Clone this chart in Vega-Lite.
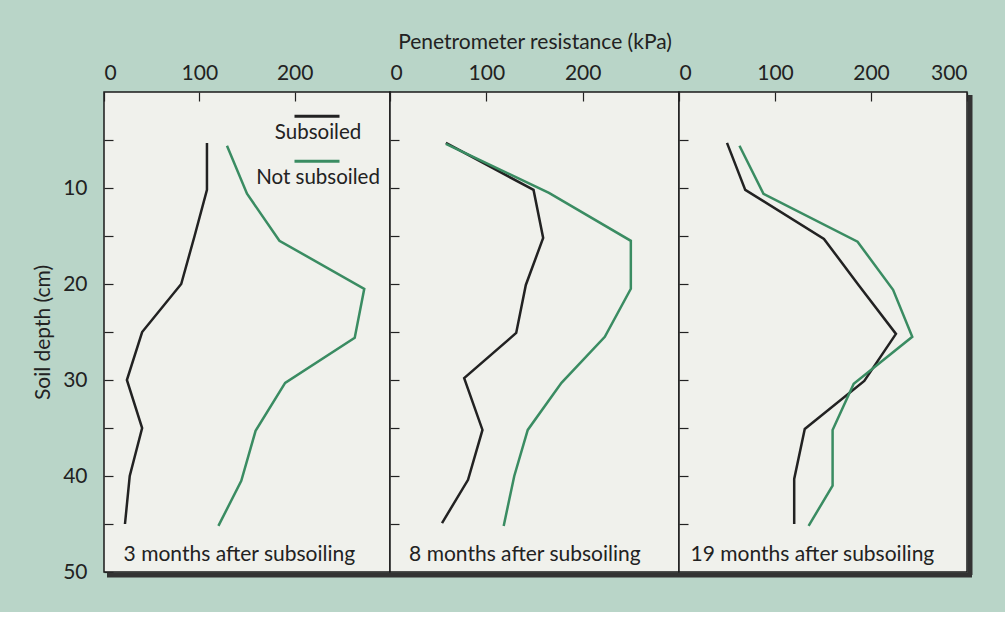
{
  "$schema": "https://vega.github.io/schema/vega-lite/v6.json",
  "background": "#b9d5c8",
  "padding": {"left": 31, "top": 30, "right": 29, "bottom": 29},
  "bounds": "flush",
  "config": {
    "font": "Lato",
    "view": {"stroke": "#1a1a1a", "strokeWidth": 1.5, "fill": "#f0f1ec"},
    "axis": {"labelFont": "Lato", "titleFont": "Lato", "labelColor": "#222", "titleColor": "#222", "tickColor": "#222", "grid": false, "domain": false, "labelFontSize": 21, "titleFontSize": 21, "titleFontWeight": "normal", "tickSize": -9, "tickWidth": 1.2},
    "legend": {"labelFont": "Lato"}
  },
  "datasets": {
    "profiles": [
      {"panel": 1, "treatment": "Subsoiled", "depth": 5.3, "resistance": 108},
      {"panel": 1, "treatment": "Subsoiled", "depth": 10.2, "resistance": 108},
      {"panel": 1, "treatment": "Subsoiled", "depth": 15, "resistance": 95},
      {"panel": 1, "treatment": "Subsoiled", "depth": 20, "resistance": 81},
      {"panel": 1, "treatment": "Subsoiled", "depth": 25, "resistance": 40},
      {"panel": 1, "treatment": "Subsoiled", "depth": 30, "resistance": 24},
      {"panel": 1, "treatment": "Subsoiled", "depth": 35, "resistance": 40},
      {"panel": 1, "treatment": "Subsoiled", "depth": 40, "resistance": 27},
      {"panel": 1, "treatment": "Subsoiled", "depth": 45, "resistance": 22},
      {"panel": 1, "treatment": "Not subsoiled", "depth": 5.6, "resistance": 129},
      {"panel": 1, "treatment": "Not subsoiled", "depth": 10.6, "resistance": 150},
      {"panel": 1, "treatment": "Not subsoiled", "depth": 15.5, "resistance": 184},
      {"panel": 1, "treatment": "Not subsoiled", "depth": 20.5, "resistance": 273},
      {"panel": 1, "treatment": "Not subsoiled", "depth": 25.6, "resistance": 263},
      {"panel": 1, "treatment": "Not subsoiled", "depth": 30.3, "resistance": 190},
      {"panel": 1, "treatment": "Not subsoiled", "depth": 35.3, "resistance": 159},
      {"panel": 1, "treatment": "Not subsoiled", "depth": 40.5, "resistance": 144},
      {"panel": 1, "treatment": "Not subsoiled", "depth": 45.2, "resistance": 120},
      {"panel": 2, "treatment": "Subsoiled", "depth": 5.3, "resistance": 58},
      {"panel": 2, "treatment": "Subsoiled", "depth": 10.2, "resistance": 149},
      {"panel": 2, "treatment": "Subsoiled", "depth": 15.2, "resistance": 159},
      {"panel": 2, "treatment": "Subsoiled", "depth": 20.1, "resistance": 141},
      {"panel": 2, "treatment": "Subsoiled", "depth": 25.1, "resistance": 131},
      {"panel": 2, "treatment": "Subsoiled", "depth": 29.8, "resistance": 77},
      {"panel": 2, "treatment": "Subsoiled", "depth": 35.2, "resistance": 96},
      {"panel": 2, "treatment": "Subsoiled", "depth": 40.4, "resistance": 81},
      {"panel": 2, "treatment": "Subsoiled", "depth": 44.9, "resistance": 54},
      {"panel": 2, "treatment": "Not subsoiled", "depth": 5.4, "resistance": 58},
      {"panel": 2, "treatment": "Not subsoiled", "depth": 10.5, "resistance": 165},
      {"panel": 2, "treatment": "Not subsoiled", "depth": 15.5, "resistance": 250},
      {"panel": 2, "treatment": "Not subsoiled", "depth": 20.5, "resistance": 250},
      {"panel": 2, "treatment": "Not subsoiled", "depth": 25.5, "resistance": 223},
      {"panel": 2, "treatment": "Not subsoiled", "depth": 30.3, "resistance": 178},
      {"panel": 2, "treatment": "Not subsoiled", "depth": 35.2, "resistance": 143},
      {"panel": 2, "treatment": "Not subsoiled", "depth": 40, "resistance": 129},
      {"panel": 2, "treatment": "Not subsoiled", "depth": 45.2, "resistance": 118},
      {"panel": 3, "treatment": "Subsoiled", "depth": 5.3, "resistance": 50},
      {"panel": 3, "treatment": "Subsoiled", "depth": 10.2, "resistance": 69},
      {"panel": 3, "treatment": "Subsoiled", "depth": 15.3, "resistance": 151},
      {"panel": 3, "treatment": "Subsoiled", "depth": 20.1, "resistance": 187},
      {"panel": 3, "treatment": "Subsoiled", "depth": 25.2, "resistance": 226},
      {"panel": 3, "treatment": "Subsoiled", "depth": 30.1, "resistance": 193},
      {"panel": 3, "treatment": "Subsoiled", "depth": 35.1, "resistance": 131},
      {"panel": 3, "treatment": "Subsoiled", "depth": 40.3, "resistance": 120},
      {"panel": 3, "treatment": "Subsoiled", "depth": 45, "resistance": 120},
      {"panel": 3, "treatment": "Not subsoiled", "depth": 5.6, "resistance": 63},
      {"panel": 3, "treatment": "Not subsoiled", "depth": 10.6, "resistance": 88},
      {"panel": 3, "treatment": "Not subsoiled", "depth": 15.6, "resistance": 186},
      {"panel": 3, "treatment": "Not subsoiled", "depth": 20.6, "resistance": 223},
      {"panel": 3, "treatment": "Not subsoiled", "depth": 25.5, "resistance": 243},
      {"panel": 3, "treatment": "Not subsoiled", "depth": 30.4, "resistance": 182},
      {"panel": 3, "treatment": "Not subsoiled", "depth": 35.2, "resistance": 160},
      {"panel": 3, "treatment": "Not subsoiled", "depth": 41, "resistance": 160},
      {"panel": 3, "treatment": "Not subsoiled", "depth": 45.2, "resistance": 135}
    ]
  },
  "spacing": 0,
  "hconcat": [
    {
      "width": 286, "height": 480,
      "layer": [
        {
          "data": {"values": [{"s": 1}]},
          "mark": {"type": "rule", "color": "#333", "strokeWidth": 5, "yOffset": 3, "xOffset": 3},
          "encoding": {"x": {"datum": 0, "type": "quantitative", "scale": {"domain": [0, 300], "nice": false}}, "x2": {"datum": 300}, "y": {"datum": 50, "type": "quantitative", "scale": {"domain": [0, 50], "reverse": true, "nice": false}}}
        },
        {
          "data": {"name": "profiles"},
          "transform": [{"filter": "datum.panel == 1"}],
          "mark": {"type": "line", "strokeWidth": 2.5},
          "encoding": {
            "x": {"field": "resistance", "type": "quantitative", "scale": {"domain": [0, 300], "nice": false}, "axis": {"orient": "top", "values": [0, 100, 200], "title": null, "labelPadding": 18}},
            "y": {"field": "depth", "type": "quantitative", "scale": {"domain": [0, 50], "reverse": true, "nice": false}, "axis": {"values": [5, 10, 15, 20, 25, 30, 35, 40, 45, 50], "labelExpr": "datum.value % 10 == 0 ? datum.label : ''", "title": "Soil depth (cm)", "titlePadding": 9, "labelPadding": 26}},
            "color": {"field": "treatment", "type": "nominal", "scale": {"domain": ["Subsoiled", "Not subsoiled"], "range": ["#222222", "#3a8c62"]},
              "legend": {"title": null, "orient": "none", "legendX": 189, "legendY": 7, "symbolType": "M-1,-0.3L1,-0.3", "symbolSize": 2025, "symbolStrokeWidth": 3, "labelAlign": "center", "labelBaseline": "top", "labelOffset": -23, "labelFontSize": 20.5, "labelColor": "#222", "rowPadding": -4}},
            "order": {"field": "depth", "type": "quantitative"}
          }
        },
        {
          "data": {"values": [{"caption": "3 months after subsoiling"}]},
          "mark": {"type": "text", "font": "Lato", "fontSize": 21, "color": "#222", "baseline": "middle", "align": "center"},
          "encoding": {"text": {"field": "caption"}, "x": {"datum": 142}, "y": {"datum": 48.2}}
        }
      ]
    },
    {
      "width": 289, "height": 480,
      "layer": [
        {
          "data": {"values": [{"s": 1}]},
          "mark": {"type": "rule", "color": "#333", "strokeWidth": 5, "yOffset": 3},
          "encoding": {"x": {"datum": 0, "type": "quantitative", "scale": {"domain": [0, 300], "nice": false}}, "x2": {"datum": 300}, "y": {"datum": 50, "type": "quantitative", "scale": {"domain": [0, 50], "reverse": true, "nice": false}}}
        },
        {
          "data": {"name": "profiles"},
          "transform": [{"filter": "datum.panel == 2"}],
          "mark": {"type": "line", "strokeWidth": 2.5},
          "encoding": {
            "x": {"field": "resistance", "type": "quantitative", "scale": {"domain": [0, 300], "nice": false}, "axis": {"orient": "top", "values": [0, 100, 200], "title": "Penetrometer resistance (kPa)", "labelPadding": 18, "titlePadding": 10}},
            "y": {"field": "depth", "type": "quantitative", "scale": {"domain": [0, 50], "reverse": true, "nice": false}, "axis": {"values": [5, 10, 15, 20, 25, 30, 35, 40, 45], "labels": false, "title": null}},
            "color": {"field": "treatment", "type": "nominal", "legend": null},
            "order": {"field": "depth", "type": "quantitative"}
          }
        },
        {
          "data": {"values": [{"caption": "8 months after subsoiling"}]},
          "mark": {"type": "text", "font": "Lato", "fontSize": 21, "color": "#222", "baseline": "middle", "align": "center"},
          "encoding": {"text": {"field": "caption"}, "x": {"datum": 140}, "y": {"datum": 48.2}}
        }
      ]
    },
    {
      "width": 288, "height": 480,
      "layer": [
        {
          "data": {"values": [{"s": 1}]},
          "mark": {"type": "rule", "color": "#333", "strokeWidth": 5, "yOffset": 3, "x2Offset": 5},
          "encoding": {"x": {"datum": 0, "type": "quantitative", "scale": {"domain": [0, 300], "nice": false}}, "x2": {"datum": 300}, "y": {"datum": 50, "type": "quantitative", "scale": {"domain": [0, 50], "reverse": true, "nice": false}}}
        },
        {
          "data": {"values": [{"s": 1}]},
          "mark": {"type": "rule", "color": "#333", "strokeWidth": 5, "xOffset": 3, "y2Offset": 3},
          "encoding": {"x": {"datum": 300, "type": "quantitative"}, "y": {"datum": 0.3, "type": "quantitative"}, "y2": {"datum": 50}}
        },
        {
          "data": {"name": "profiles"},
          "transform": [{"filter": "datum.panel == 3"}],
          "mark": {"type": "line", "strokeWidth": 2.5},
          "encoding": {
            "x": {"field": "resistance", "type": "quantitative", "scale": {"domain": [0, 300], "nice": false}, "axis": {"orient": "top", "values": [0, 100, 200, 300], "title": null, "labelPadding": 18}},
            "y": {"field": "depth", "type": "quantitative", "scale": {"domain": [0, 50], "reverse": true, "nice": false}, "axis": {"values": [5, 10, 15, 20, 25, 30, 35, 40, 45], "labels": false, "title": null}},
            "color": {"field": "treatment", "type": "nominal", "legend": null},
            "order": {"field": "depth", "type": "quantitative"}
          }
        },
        {
          "data": {"values": [{"caption": "19 months after subsoiling"}]},
          "mark": {"type": "text", "font": "Lato", "fontSize": 21, "color": "#222", "baseline": "middle", "align": "center"},
          "encoding": {"text": {"field": "caption"}, "x": {"datum": 139}, "y": {"datum": 48.2}}
        }
      ]
    }
  ]
}
